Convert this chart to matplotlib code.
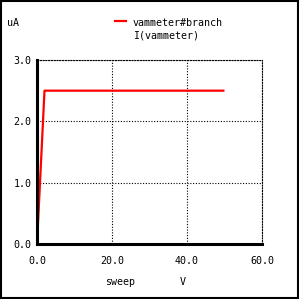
import matplotlib
matplotlib.use("Agg")
import matplotlib.pyplot as plt
from matplotlib.patches import Rectangle

sweep_v = [0.0, 2.0, 50.0]
current_ua = [0.0, 2.5, 2.5]
x_ticks = [0.0, 20.0, 40.0, 60.0]
y_ticks = [0.0, 1.0, 2.0, 3.0]
x_labels = ["0.0", "20.0", "40.0", "60.0"]
y_labels = ["0.0", "1.0", "2.0", "3.0"]

FONT = "DejaVu Sans Mono"
FS = 7.2
W = H = 299

fig = plt.figure(figsize=(2.99, 2.99), dpi=100)
fig.patch.set_facecolor("white")
ax = fig.add_axes([37 / W, (H - 244) / H, (262 - 37) / W, (244 - 60) / H])

ax.plot(sweep_v, current_ua, color="#ff0000", lw=1.6, solid_capstyle="butt", zorder=3)
ax.set_xlim(0, 60)
ax.set_ylim(0, 3)
ax.set_xticks(x_ticks)
ax.set_xticklabels(x_labels, family=FONT, fontsize=FS)
ax.set_yticks(y_ticks)
ax.set_yticklabels(y_labels, family=FONT, fontsize=FS)
ax.tick_params(length=0, pad=9, axis="x")
ax.tick_params(length=0, pad=4, axis="y")
ax.grid(True, color="black", lw=0.8, linestyle=(0, (1, 1.5)))
for s in ["top", "right"]:
    ax.spines[s].set_linestyle((0, (1, 1.5)))
    ax.spines[s].set_linewidth(0.8)
for s in ["left", "bottom"]:
    ax.spines[s].set_linewidth(2.2)
    ax.spines[s].set_zorder(4)

fig.text(7 / W, 1 - 23 / H, "uA", family=FONT, fontsize=FS, va="center", ha="left")
fig.text(105 / W, 1 - 282 / H, "sweep", family=FONT, fontsize=FS, va="center", ha="left")
fig.text(180 / W, 1 - 282 / H, "V", family=FONT, fontsize=FS, va="center", ha="left")
fig.lines.append(plt.Line2D([115 / W, 126 / W], [1 - 21 / H, 1 - 21 / H], color="#ff0000", lw=1.6,
                            transform=fig.transFigure, figure=fig))
fig.text(133 / W, 1 - 23 / H, "vammeter#branch", family=FONT, fontsize=FS, va="center", ha="left")
fig.text(133 / W, 1 - 36 / H, "I(vammeter)", family=FONT, fontsize=FS, va="center", ha="left")

fig.patches.append(Rectangle((0.002, 0.002), 0.996, 0.996, transform=fig.transFigure, fill=False,
                             edgecolor="black", lw=1.5, figure=fig))

fig.savefig("out.png", dpi=100)
